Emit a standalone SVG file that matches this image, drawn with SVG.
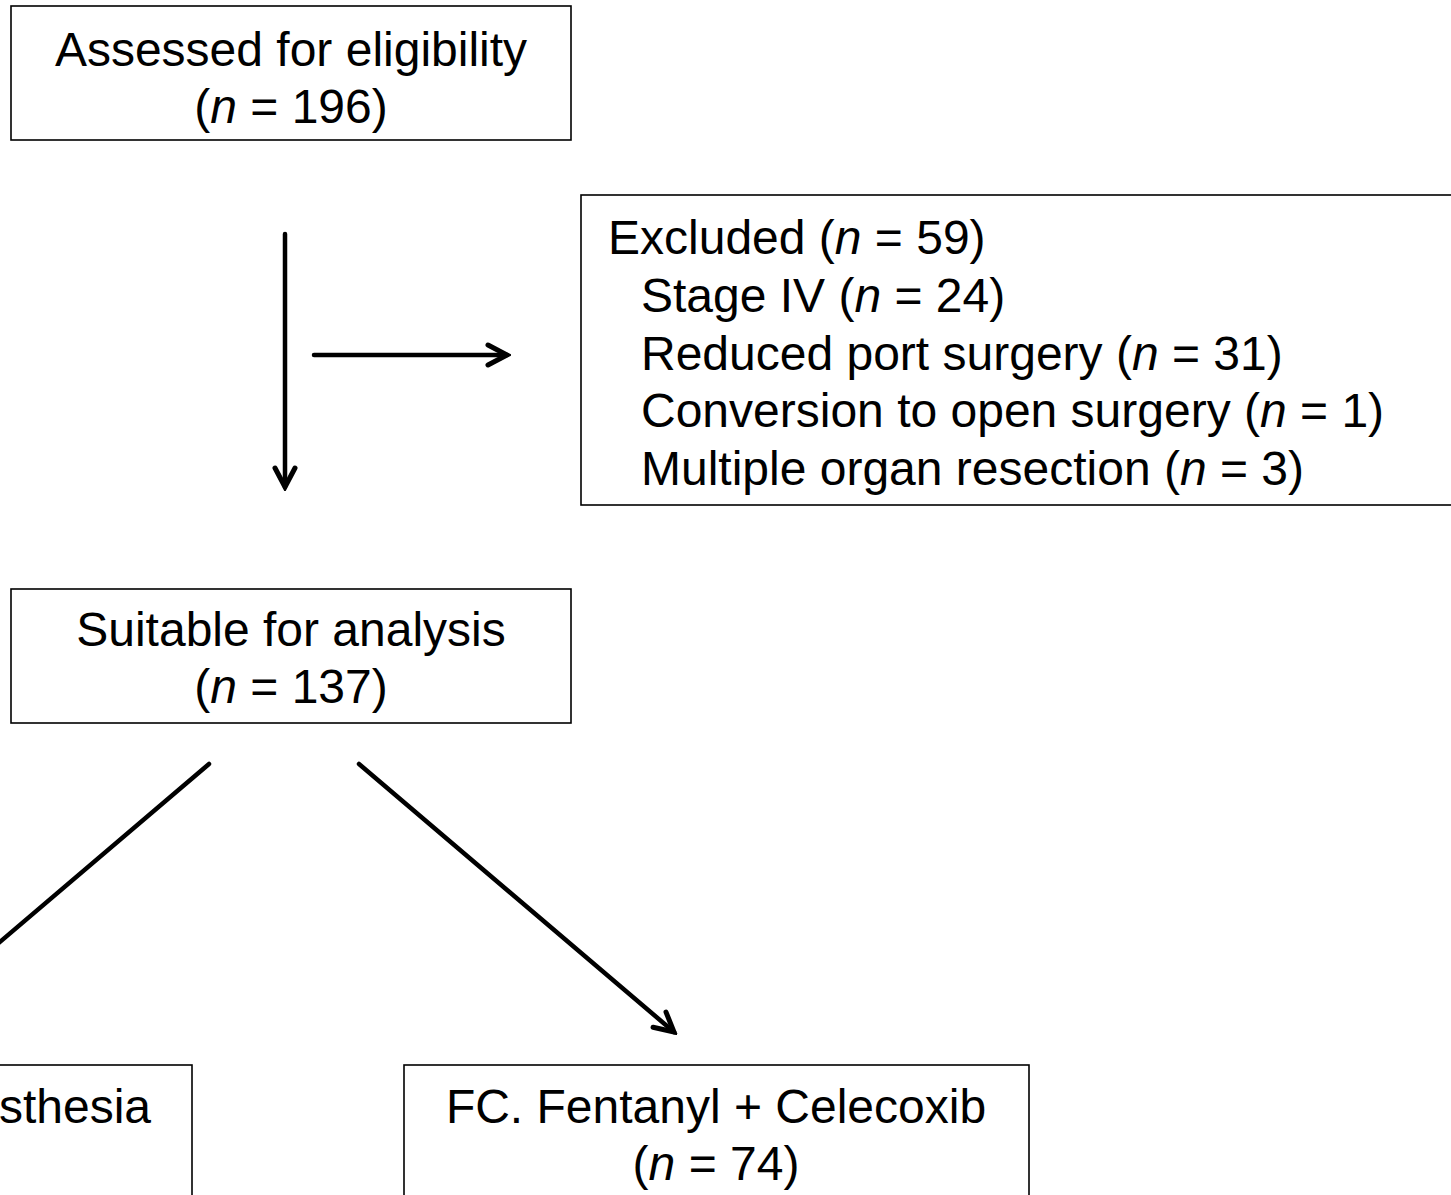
<svg xmlns="http://www.w3.org/2000/svg" width="1451" height="1195" viewBox="0 0 1451 1195">
<style>
.box{fill:#fff;stroke:#000;stroke-width:1.6}
.t{font-family:"Liberation Sans",Arial,sans-serif;font-size:48px;fill:#000}
.c{text-anchor:middle}
.conn{stroke:#000;stroke-width:4.5;fill:none;stroke-linecap:round}
.head{stroke:#000;stroke-width:5;fill:none;stroke-linecap:round;stroke-linejoin:miter}
</style>
<defs>
<marker id="arr" viewBox="-24 -14 28 28" markerWidth="28" markerHeight="28" refX="0" refY="0" orient="auto" markerUnits="userSpaceOnUse">
<path d="M-19,-10 L0,0 L-19,10" class="head"/>
</marker>
</defs>
<rect width="1451" height="1195" fill="#fff"/>
<g id="connectors">
<line class="conn" x1="285" y1="234" x2="285" y2="487" marker-end="url(#arr)"/>
<line class="conn" x1="314" y1="355" x2="507" y2="355" marker-end="url(#arr)"/>
<line class="conn" x1="209" y1="764" x2="-107" y2="1033" marker-end="url(#arr)"/>
<line class="conn" x1="359" y1="764" x2="674" y2="1032" marker-end="url(#arr)"/>
</g>
<g id="node-assessed">
<rect class="box" x="11" y="6" width="560" height="134"/>
<text class="t c" x="291" y="66">Assessed for eligibility</text>
<text class="t c" x="291" y="123">(<tspan font-style="italic">n</tspan> = 196)</text>
</g>
<g id="node-excluded">
<rect class="box" x="581" y="195" width="880" height="310"/>
<text class="t" x="608" y="254">Excluded (<tspan font-style="italic">n</tspan> = 59)</text>
<text class="t" x="641" y="312">Stage IV (<tspan font-style="italic">n</tspan> = 24)</text>
<text class="t" x="641" y="370">Reduced port surgery (<tspan font-style="italic">n</tspan> = 31)</text>
<text class="t" x="641" y="427">Conversion to open surgery (<tspan font-style="italic">n</tspan> = 1)</text>
<text class="t" x="641" y="485">Multiple organ resection (<tspan font-style="italic">n</tspan> = 3)</text>
</g>
<g id="node-suitable">
<rect class="box" x="11" y="589" width="560" height="134"/>
<text class="t c" x="291" y="646">Suitable for analysis</text>
<text class="t c" x="291" y="703">(<tspan font-style="italic">n</tspan> = 137)</text>
</g>
<g id="node-left">
<rect class="box" x="-440" y="1065" width="632" height="200"/>
<text class="t" x="151" y="1123" text-anchor="end">sthesia</text>
</g>
<g id="node-fc">
<rect class="box" x="404" y="1065" width="625" height="200"/>
<text class="t c" x="716" y="1123">FC. Fentanyl + Celecoxib</text>
<text class="t c" x="716" y="1180">(<tspan font-style="italic">n</tspan> = 74)</text>
</g>
</svg>
